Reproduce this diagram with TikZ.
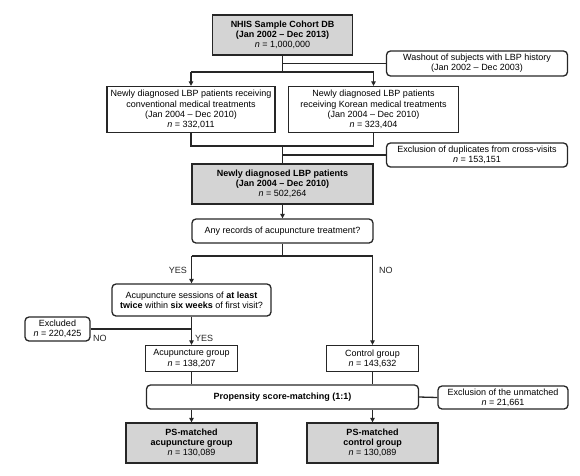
\documentclass[tikz,border=0pt]{standalone}
\usepackage{fontspec}
\setmainfont{Liberation Sans}
\usetikzlibrary{arrows.meta}
\begin{document}
\begin{tikzpicture}[x=1pt,y=-1pt,
 box/.style={draw=black!85, line width=1.3pt, align=center, inner sep=1pt, font=\fontsize{9}{10.3}\selectfont},
 rnd/.style={box, rounded corners=4pt},
 gbox/.style={box, fill=black!17},
 ln/.style={line width=1.3pt, draw=black!85},
 arr/.style={ln, -{Triangle[length=4.5pt,width=4.5pt]}},
 lab/.style={font=\fontsize{9}{10}\selectfont, inner sep=0pt, text=black!85}]
\useasboundingbox (0,0) rectangle (580,475);
% nodes
\node[gbox, minimum width=140pt, minimum height=40pt] (nhis) at (282.5,35)
  {\textbf{NHIS Sample Cohort DB}\\\textbf{(Jan 2002 -- Dec 2013)}\\\textit{n} = 1,000,000};
\node[rnd, minimum width=181pt, minimum height=25pt] (wash) at (477,63.5)
  {Washout of subjects with LBP history\\(Jan 2002 -- Dec 2003)};
\node[box, minimum width=168pt, minimum height=46pt] (conv) at (191,109.5)
  {Newly diagnosed LBP patients receiving\\conventional medical treatments\\(Jan 2004 -- Dec 2010)\\\textit{n} = 332,011};
\node[box, minimum width=170pt, minimum height=46pt] (kor) at (373.5,109.5)
  {Newly diagnosed LBP patients\\receiving Korean medical treatments\\(Jan 2004 -- Dec 2010)\\\textit{n} = 323,404};
\node[rnd, minimum width=181pt, minimum height=24pt] (dup) at (477,155)
  {Exclusion of duplicates from cross-visits\\\textit{n} = 153,151};
\node[gbox, minimum width=181pt, minimum height=40pt] (newly) at (282.5,184)
  {\textbf{Newly diagnosed LBP patients}\\\textbf{(Jan 2004 -- Dec 2010)}\\\textit{n} = 502,264};
\node[rnd, minimum width=181pt, minimum height=24pt] (any) at (282.5,231)
  {Any records of acupuncture treatment?};
\node[rnd, minimum width=159pt, minimum height=32pt] (sess) at (191.5,300)
  {Acupuncture sessions of \textbf{at least}\\\textbf{twice} within \textbf{six weeks} of first visit?};
\node[rnd, minimum width=65pt, minimum height=24pt] (excl) at (57.5,329)
  {Excluded\\\textit{n} = 220,425};
\node[box, minimum width=92pt, minimum height=26pt] (acg) at (191.5,358.5)
  {Acupuncture group\\\textit{n} = 138,207};
\node[box, minimum width=92pt, minimum height=26pt] (ctl) at (372.5,358.5)
  {Control group\\\textit{n} = 143,632};
\node[rnd, minimum width=272pt, minimum height=24pt] (psm) at (282.5,397)
  {\textbf{Propensity score-matching (1:1)}};
\node[rnd, minimum width=130pt, minimum height=23pt] (unm) at (503,397.5)
  {Exclusion of the unmatched\\\textit{n} = 21,661};
\node[gbox, minimum width=131pt, minimum height=40pt] (psa) at (191.5,443)
  {\textbf{PS-matched}\\\textbf{acupuncture group}\\\textit{n} = 130,089};
\node[gbox, minimum width=131pt, minimum height=40pt] (psc) at (372.5,443)
  {\textbf{PS-matched}\\\textbf{control group}\\\textit{n} = 130,089};
% junctions
\coordinate (j1) at (282.5,72);
\coordinate (j2) at (282.5,146);
\coordinate (j3) at (282.5,256);
% connectors
\draw[ln] (nhis.south) -- (j1);
\draw[ln] (nhis.south |- wash.west) -- (wash.west);
\draw[ln] (conv.north |- j1) -- (kor.north |- j1);
\draw[arr] (conv.north |- j1) -- (conv.north);
\draw[arr] (kor.north |- j1) -- (kor.north);
\draw[ln] (conv.south) -- (conv.south |- j2) -- (kor.south |- j2) -- (kor.south);
\draw[ln] (j2) -- (newly.north);
\draw[ln] (j2 |- dup.west) -- (dup.west);
\draw[arr] (newly.south) -- (any.north);
\draw[ln] (any.south) -- (j3);
\draw[ln] (sess.north |- j3) -- (ctl.north |- j3);
\draw[arr] (sess.north |- j3) -- (sess.north);
\draw[arr] (ctl.north |- j3) -- (ctl.north);
\draw[arr] (sess.south) -- (acg.north);
\draw[ln] (excl.east) -- (sess.south |- excl.east);
\draw[ln] (acg.south) -- (acg.south |- psm.north);
\draw[ln] (ctl.south) -- (ctl.south |- psm.north);
\draw[ln] (psm.east) -- (unm.west);
\draw[arr] (psm.south -| psa.north) -- (psa.north);
\draw[arr] (psm.south -| psc.north) -- (psc.north);
% labels
\node[lab, anchor=east] (yes1) at (187,270) {YES};
\node[lab, anchor=west] (no1) at (379,270) {NO};
\node[lab, anchor=west] (yes2) at (195,338) {YES};
\node[lab, anchor=west] (no2) at (93,338) {NO};
\end{tikzpicture}
\end{document}
